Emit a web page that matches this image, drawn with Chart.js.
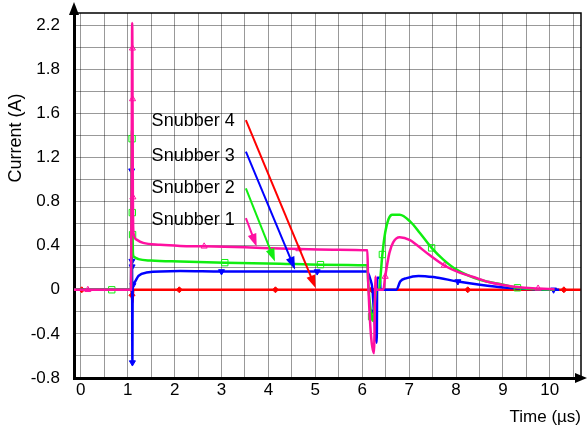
<!DOCTYPE html>
<html>
<head>
<meta charset="utf-8">
<script src="https://cdn.jsdelivr.net/npm/chart.js@4"></script>
<style>
  html, body { margin: 0; padding: 0; background: #fff; }
  #wrap { width: 587px; height: 433px; }
</style>
</head>
<body>
<div id="wrap"><canvas id="plot"></canvas></div>
<script>
// tick labels as printed on the original (uniform 0.4 steps on the axis)
const yLabels = ['-0.8', '-0.4', '0', '0.4', '0.8', '1.2', '1.6', '1.8', '2.2'];

// Snubber 1 (pink)
const t1 = [-0.15, 0.15, 1.07, 1.085, 1.095, 1.1, 1.103, 1.106, 1.11, 1.115, 1.125, 1.19, 1.33, 1.69, 2.12, 2.63, 3.5, 4.25, 4.65, 5.5, 6.11, 6.125, 6.25, 6.285, 6.295, 6.45, 6.49, 6.58, 6.66, 6.8, 7.02, 7.15, 7.45, 7.75, 8.05, 8.37, 8.7, 9.01, 9.35, 9.75, 10.1];
const i1 = [0, 0, 0, 1.2, 2.42, 2.19, 1.73, 1.37, 0.84, 0.6, 0.51, 0.455, 0.425, 0.408, 0.398, 0.394, 0.385, 0.374, 0.37, 0.364, 0.358, 0.1, -0.575, 0.12, 0, 0, 0.12, 0.335, 0.43, 0.476, 0.45, 0.41, 0.31, 0.22, 0.16, 0.116, 0.07, 0.043, 0.022, 0.012, 0.004];
const m1 = [0.15, 1.1, 1.103, 1.11, 2.63, 4.65, 6.49, 7.75, 9.75];

// Snubber 2 (green)
const t2 = [-0.15, 0.66, 1.07, 1.088, 1.093, 1.098, 1.104, 1.112, 1.13, 1.23, 1.5, 2.12, 3.07, 4.25, 5.11, 6.11, 6.13, 6.2, 6.23, 6.3, 6.36, 6.39, 6.43, 6.49, 6.56, 6.64, 6.8, 7.02, 7.23, 7.48, 7.73, 8.01, 8.51, 9.01, 9.31, 9.79, 10.1];
const i2 = [0, 0, 0, 1.45, 1.37, 0.7, 0.5, 0.33, 0.3, 0.278, 0.265, 0.256, 0.246, 0.237, 0.228, 0.222, 0.05, -0.244, -0.28, 0, 0, 0.12, 0.32, 0.52, 0.64, 0.68, 0.68, 0.62, 0.515, 0.38, 0.274, 0.183, 0.091, 0.046, 0.018, 0.005, 0];
const m2 = [0.66, 1.093, 1.098, 1.104, 3.07, 5.11, 6.2, 6.43, 7.48, 9.31];

// Snubber 3 (blue)
const t3 = [-0.15, 1.07, 1.085, 1.09, 1.093, 1.1, 1.105, 1.11, 1.16, 1.23, 1.4, 2.12, 3.0, 5.04, 6.1, 6.17, 6.22, 6.25, 6.31, 6.32, 6.38, 6.39, 6.73, 6.81, 6.95, 7.2, 7.52, 8.04, 8.51, 9.08, 9.6, 10.08, 10.2];
const i3 = [0, 0, 1.08, 0.26, 0.21, -0.66, 0, 0.04, 0.075, 0.126, 0.156, 0.17, 0.166, 0.165, 0.165, 0.1, 0, -0.2, -0.48, 0.11, 0.11, 0, 0, 0.075, 0.106, 0.126, 0.115, 0.075, 0.045, 0.018, 0.006, 0, 0];
const m3 = [1.085, 1.09, 1.093, 1.1, 1.11, 3.0, 5.04, 6.25, 8.04, 10.08];

// Snubber 4 (red)
const t4 = [-0.15, 0.02, 1.07, 1.09, 1.1, 1.12, 2.1, 4.15, 6.2, 8.25, 10.3, 10.66];
const i4 = [0, 0, 0, -0.05, -0.12, 0, 0, 0, 0, 0, 0, 0];
const m4 = [0.02, 1.09, 2.1, 4.15, 6.2, 8.25, 10.3];

// annotation labels and arrows (data units)
const noteText = ['Snubber 4', 'Snubber 3', 'Snubber 2', 'Snubber 1'];
const noteY = [1.532, 1.213, 0.92, 0.634];
const noteX = 1.51;
const arrowFrom = [[3.52, 1.539], [3.52, 1.252], [3.52, 0.92], [3.52, 0.649]];
const arrowTo = [[5.01, 0.015], [4.57, 0.181], [4.14, 0.256], [3.75, 0.391]];
const noteColor = ['#ff0000', '#0000ff', '#10ee10', '#ff10a0'];

const FONT = '"Liberation Sans", Arial, sans-serif';

function pts(t, v) {
    return t.map((x, k) => ({x: x, y: v[k]}));
}

function series(label, t, v, marks, color, style, r, rot, fill) {
    return {
        label: label,
        data: pts(t, v),
        borderColor: color,
        borderWidth: 2.5,
        pointStyle: style,
        pointRotation: rot,
        pointBorderWidth: 1,
        pointBorderColor: color,
        pointBackgroundColor: fill ? color : 'rgba(255,255,255,0)',
        pointRadius: ctx => (ctx.raw && marks.includes(ctx.raw.x)) ? r : 0,
        pointHoverRadius: 0,
        cubicInterpolationMode: 'monotone',
        fill: false
    };
}

function arrow(ctx, x1, y1, x2, y2, color, w, len, half) {
    const a = Math.atan2(y2 - y1, x2 - x1);
    ctx.strokeStyle = color;
    ctx.fillStyle = color;
    ctx.lineWidth = w;
    ctx.beginPath();
    ctx.moveTo(x1, y1);
    ctx.lineTo(x2 - Math.cos(a) * len * 0.8, y2 - Math.sin(a) * len * 0.8);
    ctx.stroke();
    ctx.beginPath();
    ctx.moveTo(x2, y2);
    ctx.lineTo(x2 - Math.cos(a) * len - Math.sin(a) * half, y2 - Math.sin(a) * len + Math.cos(a) * half);
    ctx.lineTo(x2 - Math.cos(a) * len + Math.sin(a) * half, y2 - Math.sin(a) * len - Math.cos(a) * half);
    ctx.closePath();
    ctx.fill();
}

const decor = {
    id: 'decor',
    afterDraw(chart) {
        const ctx = chart.ctx;
        const area = chart.chartArea;
        const xs = chart.scales.x, ys = chart.scales.y;
        ctx.save();
        // top and right frame
        ctx.strokeStyle = '#000';
        ctx.lineWidth = 1.5;
        ctx.beginPath();
        ctx.moveTo(area.left, area.top);
        ctx.lineTo(area.right, area.top);
        ctx.lineTo(area.right, area.bottom);
        ctx.stroke();
        // axis arrows
        arrow(ctx, area.left, area.top, area.left, 2, '#000', 3, 13, 5);
        arrow(ctx, area.right, area.bottom, 587, area.bottom, '#000', 3, 12, 5);
        // y title
        ctx.translate(16, 138);
        ctx.rotate(-Math.PI / 2);
        ctx.fillStyle = '#000';
        ctx.font = '18px ' + FONT;
        ctx.textAlign = 'center';
        ctx.textBaseline = 'middle';
        ctx.fillText('Current (A)', 0, 0);
        ctx.setTransform(1, 0, 0, 1, 0, 0);
        // snubber labels and arrows
        ctx.font = '18px ' + FONT;
        ctx.textAlign = 'left';
        ctx.textBaseline = 'middle';
        for (let k = 0; k < noteText.length; k++) {
            ctx.fillStyle = '#000';
            ctx.fillText(noteText[k], xs.getPixelForValue(noteX), ys.getPixelForValue(noteY[k]));
            arrow(ctx,
                xs.getPixelForValue(arrowFrom[k][0]), ys.getPixelForValue(arrowFrom[k][1]),
                xs.getPixelForValue(arrowTo[k][0]), ys.getPixelForValue(arrowTo[k][1]),
                noteColor[k], 2, 13, 4.5);
        }
        ctx.restore();
    }
};

function noPad(s) {
    s.paddingTop = 0;
    s.paddingBottom = 0;
    s.paddingLeft = 0;
    s.paddingRight = 0;
}

const chart = new Chart(document.getElementById('plot'), {
    type: 'line',
    data: {
        datasets: [
            series('Snubber 1', t1, i1, m1, '#ff10a0', 'triangle', 3.5, 0, false),
            series('Snubber 2', t2, i2, m2, '#10ee10', 'rect', 4.5, 0, false),
            series('Snubber 3', t3, i3, m3, '#0000ff', 'triangle', 3.5, 180, true),
            series('Snubber 4', t4, i4, m4, '#ff0000', 'rectRot', 3, 0, true)
        ]
    },
    options: {
        responsive: true,
        maintainAspectRatio: false,
        animation: false,
        events: [],
        layout: { padding: { top: 13, right: 6, left: 0, bottom: 0 } },
        plugins: {
            legend: { display: false },
            tooltip: { enabled: false }
        },
        scales: {
            x: {
                type: 'linear',
                min: -0.145,
                max: 10.665,
                afterFit: s => { s.height = 55; noPad(s); },
                grid: { color: 'rgba(0,0,0,0.4)', lineWidth: 1, drawTicks: false },
                border: { color: '#000', width: 3 },
                ticks: {
                    stepSize: 0.5,
                    includeBounds: false,
                    autoSkip: false,
                    maxRotation: 0,
                    padding: 2,
                    color: '#000',
                    font: { family: FONT, size: 17 },
                    callback: v => Number.isInteger(v) ? String(v) : ''
                },
                title: {
                    display: true,
                    text: 'Time (µs)',
                    align: 'end',
                    color: '#000',
                    font: { family: FONT, size: 17 },
                    padding: { top: 0, bottom: 5 }
                }
            },
            y: {
                type: 'linear',
                min: -0.8,
                max: 2.51,
                afterFit: s => { s.width = 74; noPad(s); },
                grid: { color: 'rgba(0,0,0,0.4)', lineWidth: 1, drawTicks: false },
                border: { color: '#000', width: 3 },
                ticks: {
                    stepSize: 0.2,
                    includeBounds: false,
                    autoSkip: false,
                    padding: 14,
                    color: '#000',
                    font: { family: FONT, size: 17 },
                    callback: v => {
                        const k = Math.round(v / 0.2);
                        return (k % 2 === 0) ? yLabels[k / 2 + 2] : '';
                    }
                }
            }
        }
    },
    plugins: [decor]
});
</script>
</body>
</html>
